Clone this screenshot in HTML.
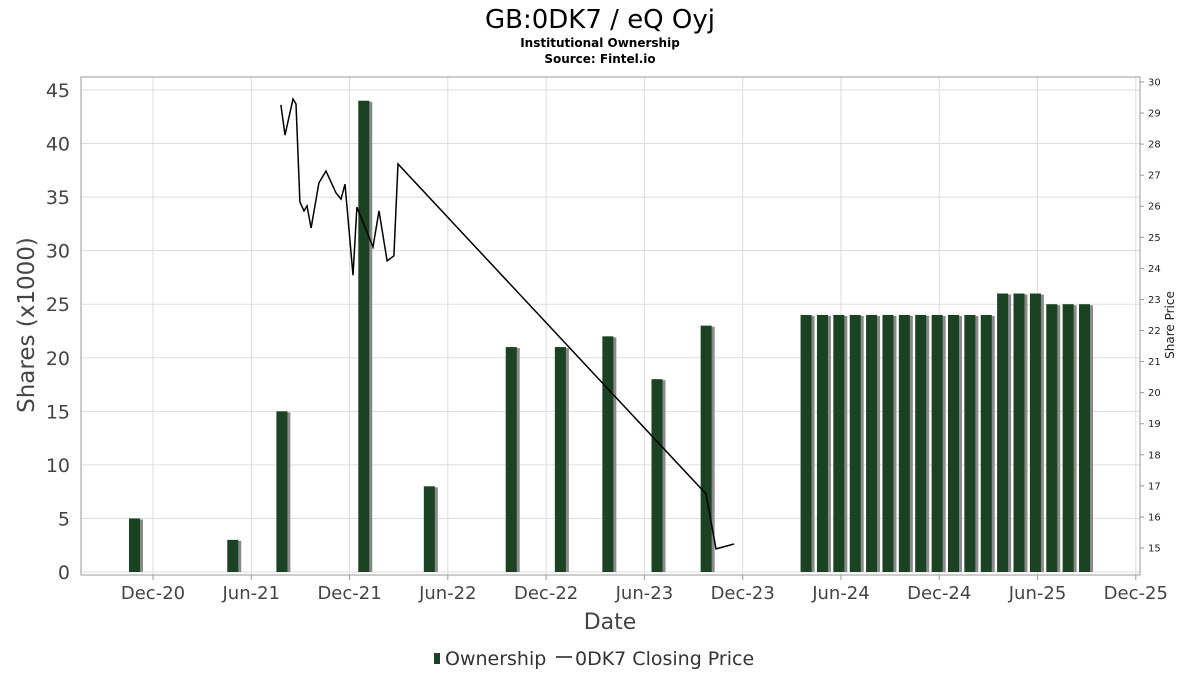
<!DOCTYPE html>
<html><head><meta charset="utf-8"><style>
body{margin:0;background:#fff;font-family:"DejaVu Sans","Liberation Sans",sans-serif}
svg text{font-family:"DejaVu Sans","Liberation Sans",sans-serif}
</style></head><body>
<svg id="c" width="1200" height="675" xmlns="http://www.w3.org/2000/svg">
<text x="600" y="28" text-anchor="middle" font-size="26">GB:0DK7 / eQ Oyj</text>
<text x="600" y="47" text-anchor="middle" font-size="12" font-weight="bold">Institutional Ownership</text>
<text x="600" y="63" text-anchor="middle" font-size="12" font-weight="bold">Source: Fintel.io</text>
<g id="grid"></g>
<rect x="81" y="77" width="1059" height="498" fill="none" stroke="#999"/>
<g id="bars"></g>
<path id="price" fill="none" stroke="#000" stroke-width="1.5"/>
<g id="axes"></g>
<text transform="translate(34,325) rotate(-90)" text-anchor="middle" font-size="23" fill="#444">Shares (x1000)</text>
<text transform="translate(1174,325) rotate(-90)" text-anchor="middle" font-size="12" fill="#222">Share Price</text>
<text x="610" y="629" text-anchor="middle" font-size="22" fill="#444">Date</text>
<g>
<rect x="434" y="653" width="6" height="11" fill="#1a4223"/>
<text x="445" y="665" font-size="19" fill="#333">Ownership</text>
<line x1="556" y1="657" x2="572" y2="657" stroke="#555" stroke-width="2"/>
<text x="575" y="665" font-size="19" fill="#333">0DK7 Closing Price</text>
</g>
</svg>
<script>
const barMonths=[-1.1,4.9,7.9,12.9,16.9,21.9,24.9,27.8,30.8,33.8,39.9,40.9,41.9,42.9,43.9,44.9,45.9,46.9,47.9,48.9,49.9,50.9,51.9,52.9,53.9,54.9,55.9,56.9];
const barValues=[5,3,15,44,8,21,21,22,18,23,24,24,24,24,24,24,24,24,24,24,24,24,26,26,26,25,25,25];
const priceMonths=[7.81,8.06,8.55,8.73,8.97,9.22,9.40,9.65,10.13,10.56,11.17,11.48,11.72,12.21,12.45,13.43,13.80,14.29,14.71,14.96,33.76,34.37,35.47];
const priceValues=[29.26,28.29,29.45,29.29,26.14,25.85,26.01,25.30,26.75,27.13,26.43,26.23,26.71,23.78,25.97,24.69,25.85,24.24,24.40,27.36,16.74,14.97,15.13];
const xTickLabels=["Dec-20","Jun-21","Dec-21","Jun-22","Dec-22","Jun-23","Dec-23","Jun-24","Dec-24","Jun-25","Dec-25"];
const yTicks=[0,5,10,15,20,25,30,35,40,45];
const y2Ticks=[15,16,17,18,19,20,21,22,23,24,25,26,27,28,29,30];
const NS="http://www.w3.org/2000/svg";
const xs=m=>153+m*16.38;
const ys=v=>572-v*(482/45);
const yp=p=>548-(p-15)*31.07;
function mk(t,a,p){const e=document.createElementNS(NS,t);for(const k in a)e.setAttribute(k,a[k]);p.appendChild(e);return e;}
const grid=document.getElementById('grid'),axes=document.getElementById('axes'),bars=document.getElementById('bars');
yTicks.forEach(v=>{
 const l=mk('line',{x1:81,x2:1140,y1:ys(v),y2:ys(v),stroke:'#ddd'},grid);
 
 
 const t=mk('text',{x:70,y:ys(v)+7,'text-anchor':'end','font-size':19,fill:'#444'},axes);t.textContent=v;
 
 
});
xTickLabels.forEach((s,i)=>{
 const x=xs(i*6);
 const l=mk('line',{x1:x,x2:x,y1:77,y2:575,stroke:'#ddd'},grid);
 
 
 mk('line',{x1:x,x2:x,y1:575,y2:580,stroke:'#999'},axes);
 const t=mk('text',{x:x,y:599,'text-anchor':'middle','font-size':18,fill:'#444'},axes);t.textContent=s;
 
 
});
y2Ticks.forEach(p=>{
 mk('line',{x1:1140,x2:1144,y1:yp(p),y2:yp(p),stroke:'#999'},axes);
 const t=mk('text',{x:1148,y:yp(p)+3.5,'font-size':10,fill:'#222'},axes);t.textContent=p;
 
 
});
barMonths.forEach((m,i)=>{
 const x=xs(m),y=ys(barValues[i]),h=572-y;
 const s=mk('rect',{x:x-3,y:y+1,width:11,height:h-1,fill:'#8a8a8a'},bars);
 
 
 const r=mk('rect',{x:x-6,y:y,width:11,height:h,fill:'#1a4223'},bars);
 
 
});
document.getElementById('price').setAttribute('d',priceMonths.map((m,i)=>(i?'L':'M')+xs(m).toFixed(1)+','+yp(priceValues[i]).toFixed(1)).join(''));
</script>
</body></html>
